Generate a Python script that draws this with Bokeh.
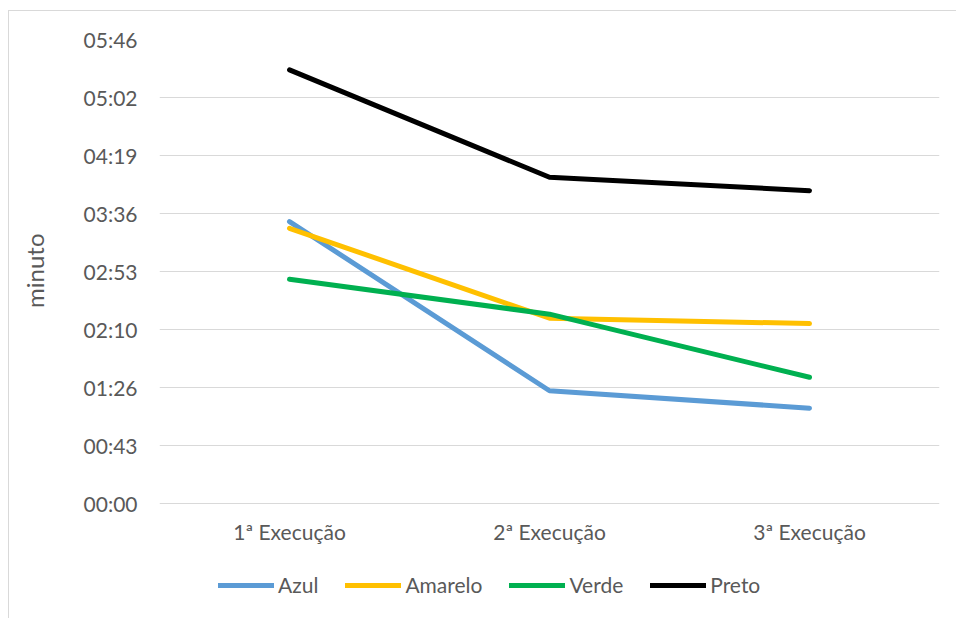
from bokeh.plotting import figure
from bokeh.models import (FactorRange, Range1d, FixedTicker, CustomJSTickFormatter,
                          Legend, LegendItem, Title)
from bokeh.core.properties import value
from bokeh.embed import file_html
from bokeh.resources import INLINE

categories = ["1ª Execução", "2ª Execução", "3ª Execução"]

# values in seconds
azul = [210, 84, 71]
amarelo = [205, 138, 134]
verde = [167, 141, 94]
preto = [323, 243, 233]

series_names = ["Azul", "Amarelo", "Verde", "Preto"]
series_values = [azul, amarelo, verde, preto]
series_colors = ["#5B9BD5", "#FFC000", "#00B050", "#000000"]

tick_values = [0, 43.2, 86.4, 129.6, 172.8, 216.0, 259.2, 302.4, 345.6]
tick_labels = ["00:00", "00:43", "01:26", "02:10", "02:53", "03:36", "04:19", "05:02", "05:46"]

FONT = "Lato"
TXT = "#595959"

# layout (window pixels): frame top 39, zero line 503, frame bottom 616
FR_TOP, ZERO_PX, FR_BOT = 39, 503, 616
ymax = tick_values[-1]
ymin = -ymax * (FR_BOT - ZERO_PX) / (ZERO_PX - FR_TOP)

p = figure(width=948, height=608, x_range=FactorRange(*categories),
           y_range=Range1d(ymin, ymax), output_backend="svg", toolbar_location=None,
           min_border_left=150, min_border_right=18, min_border_top=28,
           min_border_bottom=3)
p.styles = {"margin-left": "8px", "margin-top": "10px",
            "border-left": "1px solid #d9d9d9", "border-top": "1px solid #d9d9d9"}
p.outline_line_color = None
p.background_fill_color = "white"
p.border_fill_color = "white"

p.xgrid.grid_line_color = None
p.ygrid.grid_line_color = "#d9d9d9"
p.ygrid.grid_line_width = 1
p.xaxis.visible = False

p.yaxis.ticker = FixedTicker(ticks=tick_values)
p.yaxis.formatter = CustomJSTickFormatter(args=dict(tv=tick_values, tl=tick_labels), code="""
let best = 0, bd = 1e9;
for (let i = 0; i < tv.length; i++) { const d = Math.abs(tv[i] - tick); if (d < bd) { bd = d; best = i; } }
return tl[best];
""")
ax = p.yaxis[0]
ax.axis_line_color = None
ax.major_tick_line_color = None
ax.minor_tick_line_color = None
ax.major_tick_out = 0
ax.major_tick_in = 0
ax.minor_tick_out = 0
ax.major_label_text_font = FONT
ax.major_label_text_font_size = "21px"
ax.major_label_text_color = TXT
ax.major_label_standoff = 22

# y-axis title, placed beside the data area (0 .. ymax); the blank second line
# gives the title panel extra width so that the word sits further left
ytitle = Title(text="minuto\n ", align="right", offset=194, vertical_align="top",
               text_font=FONT, text_font_size="24px", text_font_style="normal",
               text_color=TXT, standoff=2)
p.add_layout(ytitle, "left")

# category labels under the zero line
p.text(x=categories, y=[0] * len(categories), text=categories, y_offset=28,
       text_align="center", text_baseline="middle", text_font=value(FONT),
       text_font_size="21px", text_color=TXT)

items = []
for name, vals, col in zip(series_names, series_values, series_colors):
    r = p.line(categories, vals, line_color=col, line_width=5,
               line_join="round", line_cap="round")
    items.append(LegendItem(label=name, renderers=[r]))

legend = Legend(items=items, orientation="horizontal", location=(59, FR_BOT - 597),
                padding=0, margin=0, spacing=27, glyph_width=56, glyph_height=20,
                label_height=20, label_standoff=4, label_text_font=FONT,
                label_text_font_size="21px", label_text_color=TXT,
                border_line_color=None, background_fill_alpha=0)
p.add_layout(legend, "center")

open("out.html", "w").write(file_html(p, INLINE))
